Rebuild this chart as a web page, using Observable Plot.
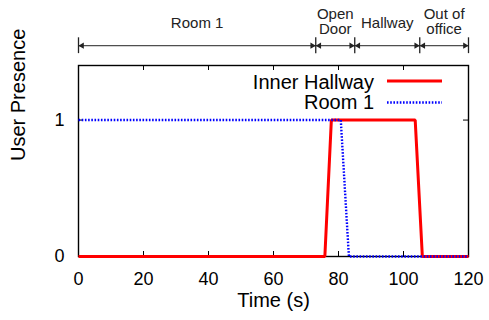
<!DOCTYPE html>
<html>
<head>
<meta charset="utf-8">
<script src="https://cdn.jsdelivr.net/npm/d3@7"></script>
<script src="https://cdn.jsdelivr.net/npm/@observablehq/plot@0.6"></script>
<style>
  html, body { margin: 0; padding: 0; background: white; }
  #chart { width: 489px; height: 320px; }
</style>
</head>
<body>
<div id="chart"></div>
<script>
// ---- data ----
const hallwayTime = [0, 75.8, 77.8, 103.6, 105.8, 120];
const hallwayPresence = [0, 0, 1, 1, 0, 0];
const roomTime = [0, 80.7, 83.2, 120];
const roomPresence = [1, 1, 0, 0];
const xTicks = [0, 20, 40, 60, 80, 100, 120];
const yTicks = [0, 1];
const segLabels = ["Room 1", "Open\nDoor", "Hallway", "Out of\noffice"];
const segStart = [0, 73, 85, 105];
const segEnd = [73, 85, 105, 120];
const annotLevel = 1.545;   // annotation arrow level (y units above frame)
const annotBar = 0.058;      // half-height of end bars
const seriesNames = ["Inner Hallway", "Room 1"];

const hallway = hallwayTime.map((t, i) => ({t, v: hallwayPresence[i]}));
const room = roomTime.map((t, i) => ({t, v: roomPresence[i]}));
const segs = segLabels.map((label, i) => ({label, a: segStart[i], b: segEnd[i], m: (segStart[i] + segEnd[i]) / 2}));
const bounds = Array.from(new Set([...segStart, ...segEnd]));
const oneLine = segs.filter(d => !d.label.includes("\n"));
const twoLine = segs.filter(d => d.label.includes("\n"));

const W = 489, H = 320, mL = 78, mR = 21, mT = 65, mB = 64;
const fw = W - mL - mR, fh = H - mT - mB;
const ink = "#222";
const red = "#ff0000", blue = "#0000ff";
const dots = "1.6,1.6";

const chart = Plot.plot({
  width: W, height: H,
  marginLeft: mL, marginRight: mR, marginTop: mT, marginBottom: mB,
  style: {fontFamily: "'Liberation Sans', Arial, Helvetica, sans-serif", background: "white", color: "black", overflow: "visible"},
  x: {domain: [0, 120], label: null},
  y: {domain: [0, 1.4], label: null},
  marks: [
    Plot.frame({stroke: "black", strokeWidth: 1.4}),
    // inward ticks
    Plot.tickX(xTicks, {x: d => d, insetTop: fh - 5, stroke: "black"}),
    Plot.tickX(xTicks, {x: d => d, insetBottom: fh - 5, stroke: "black"}),
    Plot.tickY(yTicks, {y: d => d, insetRight: fw - 5, stroke: "black"}),
    Plot.tickY(yTicks, {y: d => d, insetLeft: fw - 5, stroke: "black"}),
    Plot.axisX({ticks: xTicks, tickSize: 0, tickPadding: 16, fontSize: 18, tickFormat: d => d, label: null}),
    Plot.axisY({ticks: yTicks, tickSize: 0, tickPadding: 14, fontSize: 18, tickFormat: d => d, label: null}),
    // series
    Plot.line(hallway, {x: "t", y: "v", stroke: red, strokeWidth: 3, curve: "linear", strokeLinecap: "butt", strokeLinejoin: "miter"}),
    Plot.line(room, {x: "t", y: "v", stroke: blue, strokeWidth: 2.4, strokeDasharray: dots, strokeLinecap: "butt", strokeLinejoin: "miter", curve: "linear"}),
    // annotations above
    Plot.ruleY(segs, {x1: "a", x2: "b", y: () => annotLevel, stroke: ink, strokeWidth: 1}),
    Plot.ruleX(bounds, {x: d => d, y1: () => annotLevel - annotBar, y2: () => annotLevel + annotBar, stroke: ink, strokeWidth: 1.3}),
    Plot.dot(segs, {x: "a", y: () => annotLevel, symbol: "triangle", r: 2.3, rotate: -90, dx: 3.5, fill: ink, stroke: "none"}),
    Plot.dot(segs, {x: "b", y: () => annotLevel, symbol: "triangle", r: 2.3, rotate: 90, dx: -3.5, fill: ink, stroke: "none"}),
    Plot.text(oneLine, {x: "m", text: "label", frameAnchor: "top", lineAnchor: "top", dy: -48.5, fontSize: 15, fill: ink}),
    Plot.text(twoLine, {x: "m", text: "label", frameAnchor: "top", lineAnchor: "top", dy: -57, fontSize: 15, lineHeight: 1, fill: ink}),
    // axis titles
    Plot.text(["Time (s)"], {frameAnchor: "bottom", dy: 50, fontSize: 20, fill: "black"}),
    Plot.text(["User Presence"], {frameAnchor: "left", dx: -60, rotate: -90, fontSize: 20, fill: "black"})
  ]
});

// legend inside the plot (top-right)
const svg = d3.select(chart);
const legend = [
  {name: seriesNames[0], color: red, width: 3, dash: null, ty: 88.5, ly: 81},
  {name: seriesNames[1], color: blue, width: 2.4, dash: dots, ty: 108.7, ly: 102.5}
];
const lg = svg.append("g").attr("font-family", "'Liberation Sans', Arial, Helvetica, sans-serif");
legend.forEach(d => {
  lg.append("text").attr("x", 374).attr("y", d.ty).attr("text-anchor", "end")
    .attr("font-size", 20).attr("fill", "black").text(d.name);
  lg.append("line").attr("x1", 387).attr("x2", 442).attr("y1", d.ly).attr("y2", d.ly)
    .attr("stroke", d.color).attr("stroke-width", d.width)
    .attr("stroke-dasharray", d.dash);
});

document.getElementById("chart").appendChild(chart);
</script>
</body>
</html>
